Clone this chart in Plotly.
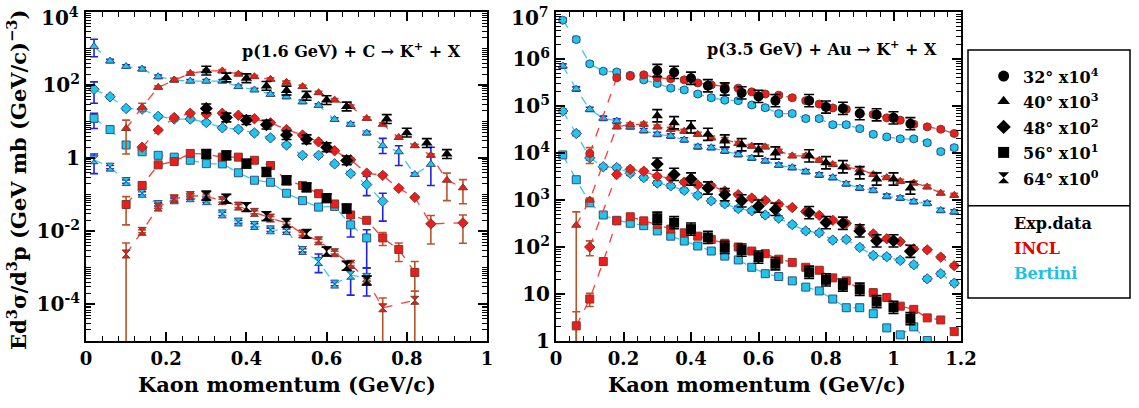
import plotly.graph_objects as go

FONT = "DejaVu Serif"

# ---------------- data ----------------
P = [0.02, 0.06, 0.10, 0.14, 0.18, 0.22, 0.26, 0.30, 0.34, 0.38, 0.42, 0.46, 0.50, 0.54, 0.58,
     0.62, 0.66, 0.70, 0.74, 0.78, 0.82, 0.86, 0.90, 0.94, 0.98, 1.02, 1.06, 1.10, 1.14, 1.18]
EXP_X = [0.30, 0.35, 0.40, 0.45, 0.50, 0.55, 0.60, 0.65, 0.75, 0.80, 0.85, 0.90, 0.95, 1.00, 1.05]

# Left panel: p(1.6 GeV) + C
L40_B = [1135, 457, 325, 275, 170, 138, 129, 129, 129, 91, 74, 56, 48, 35, 28, 11.5, 8.5, 4.9, 2.2, 1.5, 0.36, 0.68]
L40_I = [6.5, 25, 87, 138, 210, 245, 245, 200, 170, 145, 120, 91, 62, 39, 26, 12.3, 8.5, 3.7, 2.2, 1.2, 0.25, 0.155]
L40_E_X = [0.30, 0.35, 0.40, 0.45, 0.50, 0.55, 0.60, 0.65, 0.75, 0.80, 0.85, 0.90]
L40_E = [250, 162, 154, 95, 71, 51, 39, 26, 11.8, 5.0, 2.6, 1.3]

L48_B = [77, 48, 23, 22, 14, 11.8, 11.8, 9.5, 6.8, 6.2, 4.9, 3.6, 2.3, 1.2, 1.2, 0.7, 0.38, 0.19, 0.066]
L48_I_X = P[3:22] + [0.94]
L48_I = [2.0, 5.9, 13, 17, 16, 17, 15, 12, 9.3, 6.1, 4.3, 2.8, 1.6, 0.91, 0.39, 0.34, 0.15, 0.085, 0.016, 0.017]
L48_E_X = [0.30, 0.35, 0.40, 0.45, 0.50, 0.55, 0.60, 0.65]
L48_E = [23, 13, 11, 8.3, 4.3, 3.3, 2.0, 0.87]

L56_B = [12.3, 6.1, 2.3, 1.5, 1.2, 1.07, 0.88, 0.71, 0.70, 0.40, 0.25, 0.22, 0.11, 0.069, 0.046, 0.048, 0.015, 0.0066]
L56_I = [0.054, 0.18, 0.66, 0.81, 1.35, 1.3, 1.07, 1.07, 0.88, 0.63, 0.25, 0.18, 0.107, 0.056, 0.028, 0.020, 0.0066, 0.0032, 0.00075]
L56_E_X = [0.30, 0.35, 0.40, 0.45, 0.50, 0.55, 0.60, 0.65]
L56_E = [1.3, 1.2, 0.71, 0.42, 0.25, 0.16, 0.081, 0.042]

L64_B = [0.91, 0.57, 0.23, 0.11, 0.054, 0.073, 0.083, 0.069, 0.030, 0.018, 0.0145, 0.011, 0.0105, 0.003, 0.0015, 0.00036, 0.00063, 0.00055]
L64_I_X = P[2:19] + [0.82]
L64_I = [0.0024, 0.010, 0.046, 0.078, 0.095, 0.09, 0.069, 0.049, 0.033, 0.023, 0.017, 0.0085, 0.0055, 0.0026, 0.00126, 0.00047, 0.000081, 0.00013]
L64_E_X = [0.30, 0.35, 0.40, 0.45, 0.50, 0.55, 0.60, 0.65, 0.70]
L64_E = [0.095, 0.078, 0.046, 0.026, 0.017, 0.0085, 0.0028, 0.00114, 0.00045]

# Right panel: p(3.5 GeV) + Au
R32_B = [6.7e6, 2.6e6, 7.9e5, 5.5e5, 5.3e5, 4.5e5, 3.6e5, 3.0e5, 2.4e5, 2.2e5, 1.8e5, 1.5e5, 1.33e5, 1.3e5, 1.05e5,
         9.2e4, 6.9e4, 6.9e4, 5.4e4, 5.4e4, 4.0e4, 4.0e4, 3.3e4, 2.5e4, 2.2e4, 2.0e4, 2.0e4, 1.65e4, 1.07e4, 1.3e4]
R32_I_X = [0.10] + P[4:]
R32_I = [9.8e3, 4.0e5, 4.3e5, 4.6e5, 4.0e5, 3.8e5, 3.6e5, 3.1e5, 2.8e5, 2.6e5, 2.4e5, 2.0e5, 1.8e5, 1.7e5, 1.5e5,
         1.3e5, 1.1e5, 9.1e4, 8.5e4, 6.9e4, 6.6e4, 5.6e4, 5.0e4, 4.1e4, 3.6e4, 3.2e4, 2.6e4]
R32_E = [5.7e5, 5.2e5, 3.9e5, 2.7e5, 2.3e5, 1.9e5, 1.6e5, 1.3e5, 1.3e5, 9.5e4, 8.9e4, 6.9e4, 6.5e4, 5.6e4, 4.2e4]

R40_B = [7.1e5, 2.3e5, 8.5e4, 5.5e4, 4.8e4, 3.6e4, 3.0e4, 2.5e4, 2.3e4, 1.9e4, 1.36e4, 1.3e4, 1.1e4, 9.3e3, 7.8e3,
         6.8e3, 5.5e3, 4.9e3, 4.0e3, 3.4e3, 3.0e3, 2.2e3, 1.8e3, 1.6e3, 1.2e3, 1.1e3, 920, 850, 600, 560]
R40_I_X = [0.06, 0.10] + P[4:]
R40_I = [290, 1.0e3, 3.6e4, 4.0e4, 4.1e4, 3.6e4, 3.2e4, 2.9e4, 2.5e4, 2.1e4, 1.95e4, 1.6e4, 1.4e4, 1.35e4, 1.1e4,
         8.7e3, 8.7e3, 7.0e3, 5.7e3, 5.0e3, 4.5e3, 3.5e3, 3.0e3, 2.5e3, 2.3e3, 1.9e3, 1.4e3, 1.26e3]
R40_E = [6.2e4, 4.4e4, 3.6e4, 2.5e4, 1.8e4, 1.5e4, 1.16e4, 1.0e4, 8.7e3, 6.2e3, 5.1e3, 3.8e3, 2.8e3, 2.8e3, 1.8e3]

R48_B = [7.8e4, 2.6e4, 7.9e3, 5.1e3, 4.9e3, 3.7e3, 3.0e3, 2.3e3, 2.0e3, 1.6e3, 1.26e3, 960, 830, 660, 590,
         480, 410, 300, 220, 200, 140, 145, 98, 66, 62, 52, 42, 21, 27, 17]
R48_I_X = [0.10] + P[4:]
R48_I = [100, 3.5e3, 4.5e3, 4.1e3, 3.2e3, 2.9e3, 2.4e3, 2.1e3, 2.0e3, 1.55e3, 1.3e3, 1.1e3, 980, 810, 690,
         570, 470, 370, 320, 250, 190, 150, 130, 91, 87, 61, 40]
R48_E = [5.8e3, 3.5e3, 2.8e3, 1.8e3, 1.3e3, 960, 740, 630, 540, 330, 320, 220, 135, 135, 81]

R56_B = [9.1e3, 2.7e3, 870, 480, 370, 320, 285, 220, 170, 134, 105, 82, 64, 53, 37,
         27, 23.5, 19, 14, 11.6, 7.8, 5.1, 5.1, 3.8, 1.9, 1.35, 2.0, 1.02, 0.8]
R56_I_X = P[1:]
R56_I = [2.1, 7.8, 49, 360, 440, 360, 300, 240, 200, 170, 145, 120, 100, 82, 72,
         55, 47, 37, 32, 22, 19, 12.6, 10.7, 8.4, 5.5, 4.7, 3.1, 2.8, 1.58]
R56_E = [410, 330, 240, 160, 98, 86, 61, 44, 29, 20, 15.5, 12.6, 6.9, 5.2, 3.0]

# special (asymmetric / large) error bars: x -> (upper bound, lower bound)
L40_B_SP = {0.02: (1800, 600), 0.74: (3.5, 1.35), 0.78: (2.2, 0.63), 0.86: (2.0, 0.18)}
L40_I_SP = {0.10: (11, 1.3), 0.14: (32, 19), 0.90: (0.39, 0.069), 0.94: (0.26, 0.057)}
L48_B_SP = {0.02: (123, 32), 0.70: (0.32, 0.095), 0.74: (0.11, 0.019)}
L48_I_SP = {0.86: (0.027, 0.0045), 0.94: (0.028, 0.0047)}
L56_B_SP = {0.02: (17, 6.5), 0.66: (0.030, 0.007), 0.70: (0.011, 0.001)}
L56_I_SP = {0.10: (0.089, 0.015), 0.74: (0.0093, 0.0041), 0.78: (0.0048, 0.0015), 0.82: (0.0015, 0.00023)}
L64_B_SP = {0.02: (1.3, 0.38), 0.58: (0.0024, 0.00074), 0.66: (0.001, 0.00018), 0.70: (0.001, 0.00017)}
L64_I_SP = {0.10: (0.0048, 1e-9), 0.74: (0.00015, 1e-9), 0.82: (0.00023, 1e-9)}
R32_I_SP = {0.10: (1.3e4, 6e3)}
R40_I_SP = {0.06: (560, 1e-3)}
R48_I_SP = {0.10: (135, 65)}
R56_I_SP = {0.06: (4.2, 1e-3), 0.10: (10.3, 5.4)}

ANGLE_SYMBOLS = ["circle", "triangle-up", "diamond", "square", "hourglass"]
LEG_ANGLES = ["32°", "40°", "48°", "56°", "64°"]
LEG_POW = ["4", "3", "2", "1", "0"]

# ---------------- styles ----------------
C_INCL = "#ee1c1c"
C_INCL_ERR = "#b5562a"
C_BERT = "#1ec6ee"
C_BERT_ERR = "#2020e8"

fig = go.Figure()


def errs(x, y, dec, sp=None):
    up, dn = [], []
    for xi, v in zip(x, y):
        key = round(xi, 2)
        if sp and key in sp:
            hi, lo = sp[key]
            up.append(hi - v)
            dn.append(v - lo)
        else:
            up.append(v * (10 ** dec - 1))
            dn.append(v * (1 - 10 ** (-dec)))
    return up, dn


def add(x, y, kind, sym, ax, sp=None):
    if kind == "B":
        u, d = errs(x, y, 0.045, sp)
        fig.add_trace(go.Scatter(
            x=x, y=y, mode="lines+markers", xaxis=ax[0], yaxis=ax[1], showlegend=False,
            line=dict(color="#3cc8ec", width=1.3, dash="dash"),
            marker=dict(symbol=sym, size=8, color=C_BERT, line=dict(color="#33507a", width=1)),
            error_y=dict(type="data", array=u, arrayminus=d, color=C_BERT_ERR, thickness=1.6, width=4)))
    elif kind == "I":
        u, d = errs(x, y, 0.04, sp)
        fig.add_trace(go.Scatter(
            x=x, y=y, mode="lines+markers", xaxis=ax[0], yaxis=ax[1], showlegend=False,
            line=dict(color="#ff3a3a", width=1.3, dash="dash"),
            marker=dict(symbol=sym, size=8, color=C_INCL, line=dict(color="#7a3a2a", width=1)),
            error_y=dict(type="data", array=u, arrayminus=d, color=C_INCL_ERR, thickness=1.6, width=4)))
    else:
        u, d = errs(x, y, 0.12 if ax[0] == "x" else 0.13, sp)
        fig.add_trace(go.Scatter(
            x=x, y=y, mode="markers", xaxis=ax[0], yaxis=ax[1], showlegend=False,
            marker=dict(symbol=sym, size=10, color="black"),
            error_y=dict(type="data", array=u, arrayminus=d, color="black", thickness=1.6, width=5)))


LA = ("x", "y")
RA = ("x2", "y2")

# left panel
add(P[:22], L40_B, "B", "triangle-up", LA, L40_B_SP)
add(P[:19], L48_B, "B", "diamond", LA, L48_B_SP)
add(P[:18], L56_B, "B", "square", LA, L56_B_SP)
add(P[:18], L64_B, "B", "hourglass", LA, L64_B_SP)
add(P[2:24], L40_I, "I", "triangle-up", LA, L40_I_SP)
add(L48_I_X, L48_I, "I", "diamond", LA, L48_I_SP)
add(P[2:21], L56_I, "I", "square", LA, L56_I_SP)
add(L64_I_X, L64_I, "I", "hourglass", LA, L64_I_SP)
add(L40_E_X, L40_E, "E", "triangle-up", LA)
add(L48_E_X, L48_E, "E", "diamond", LA)
add(L56_E_X, L56_E, "E", "square", LA)
add(L64_E_X, L64_E, "E", "hourglass", LA)

# right panel
add(P, R32_B, "B", "circle", RA)
add(P, R40_B, "B", "triangle-up", RA)
add(P, R48_B, "B", "diamond", RA)
add(P[:29], R56_B, "B", "square", RA)
add(R32_I_X, R32_I, "I", "circle", RA, R32_I_SP)
add(R40_I_X, R40_I, "I", "triangle-up", RA, R40_I_SP)
add(R48_I_X, R48_I, "I", "diamond", RA, R48_I_SP)
add(R56_I_X, R56_I, "I", "square", RA, R56_I_SP)
add(EXP_X, R32_E, "E", "circle", RA)
add(EXP_X, R40_E, "E", "triangle-up", RA)
add(EXP_X, R48_E, "E", "diamond", RA)
add(EXP_X, R56_E, "E", "square", RA)

# legend symbols (in a hidden legend axis)
LEG_ROWS = [0.895, 0.793, 0.69, 0.587, 0.485]
fig.add_trace(go.Scatter(
    x=[0.22] * 5, y=LEG_ROWS, mode="markers", xaxis="x3", yaxis="y3", showlegend=False,
    marker=dict(symbol=ANGLE_SYMBOLS, size=11, color="black")))

# ---------------- layout ----------------
W, H = 1139, 408
ML, MR, MT, MB = 86, 4, 12, 67
PW = W - ML - MR
PH = H - MT - MB


def px(v):
    return (v - ML) / PW


def py(v):
    return (H - MB - v) / PH


xtickfont = dict(family=FONT, size=18, color="black", weight="bold")
ytickfont = dict(family=FONT, size=20, color="black", weight="bold")
common_x = dict(showline=True, linewidth=2, linecolor="black", mirror="allticks", ticks="inside",
                ticklen=9, tickwidth=1.6, tickcolor="black", showgrid=False, zeroline=False,
                tickfont=xtickfont, ticklabeloverflow="allow",
                minor=dict(ticks="inside", ticklen=5, tickwidth=1.2, tickcolor="black", dtick=0.04))
common_y = dict(type="log", showline=True, linewidth=2, linecolor="black", mirror="allticks",
                ticks="inside", ticklen=9, tickwidth=1.6, tickcolor="black", showgrid=False,
                zeroline=False, tickfont=ytickfont, automargin=False, ticklabeloverflow="allow",
                minor=dict(ticks="inside", ticklen=5, tickwidth=1.0, tickcolor="black", dtick="D1"))

# the top-most labels are placed as annotations (slightly lowered, as in the reference)
LY_TICKS = [1e-4, 1e-2, 1, 1e2, 1e4]
LY_TEXT = ["10<sup>-4</sup>", "10<sup>-2</sup>", "1", "10<sup>2</sup>", ""]
LY_TOP = "10<sup>4</sup>"
RY_TICKS = [1, 10, 1e2, 1e3, 1e4, 1e5, 1e6, 1e7]
RY_TEXT = ["1", "10", "10<sup>2</sup>", "10<sup>3</sup>", "10<sup>4</sup>", "10<sup>5</sup>",
           "10<sup>6</sup>", ""]
RY_TOP = "10<sup>7</sup>"

fig.update_layout(
    width=W, height=H, margin=dict(l=ML, r=MR, t=MT, b=MB, autoexpand=False),
    paper_bgcolor="white", plot_bgcolor="white", showlegend=False,
    font=dict(family=FONT, color="black"),
    xaxis=dict(domain=[0, px(487)], range=[0, 1], tickmode="array", tickvals=[0, 0.2, 0.4, 0.6, 0.8, 1],
               ticktext=["0", "0.2", "0.4", "0.6", "0.8", "1"], automargin=False, **common_x),
    yaxis=dict(domain=[0, 1], range=[-5.0005, 4.0005], tickmode="array", tickvals=LY_TICKS, ticktext=LY_TEXT,
               anchor="x", **common_y),
    xaxis2=dict(domain=[px(556), px(961)], range=[0, 1.2], anchor="y2", tickmode="array",
                tickvals=[0, 0.2, 0.4, 0.6, 0.8, 1, 1.2], automargin=False,
                ticktext=["0", "0.2", "0.4", "0.6", "0.8", "1", "1.2"], **common_x),
    yaxis2=dict(domain=[0, 1], range=[-0.0005, 7.0005], tickmode="array", tickvals=RY_TICKS, ticktext=RY_TEXT,
                anchor="x2", **common_y),
    xaxis3=dict(domain=[px(968), px(1130)], range=[0, 1], visible=False, anchor="y3"),
    yaxis3=dict(domain=[py(298), py(50)], range=[0, 1], visible=False, anchor="x3"),
)

fig.add_annotation(x=px(81), y=py(17), xref="paper", yref="paper", showarrow=False,
                   xanchor="right", yanchor="middle", text=LY_TOP, font=ytickfont)
fig.add_annotation(x=px(551), y=py(17), xref="paper", yref="paper", showarrow=False,
                   xanchor="right", yanchor="middle", text=RY_TOP, font=ytickfont)

fig.add_shape(type="rect", xref="x3 domain", yref="y3 domain", x0=0, x1=1, y0=0, y1=1,
              line=dict(color="black", width=1.5))
fig.add_shape(type="line", xref="x3 domain", yref="y3 domain", x0=0, x1=1, y0=0.372, y1=0.372,
              line=dict(color="black", width=1.5))

bold16 = dict(family=FONT, size=16, color="black", weight="bold")
for ang, pw, yy in zip(LEG_ANGLES, LEG_POW, LEG_ROWS):
    fig.add_annotation(x=0.33, y=yy, xref="x3", yref="y3", xanchor="left", yanchor="middle",
                       text=f"{ang} x10<sup>{pw}</sup>", showarrow=False, font=bold16)
fig.add_annotation(x=0.27, y=0.30, xref="x3", yref="y3", xanchor="left", yanchor="middle",
                   text="Exp.data", showarrow=False, font=bold16)
fig.add_annotation(x=0.27, y=0.20, xref="x3", yref="y3", xanchor="left", yanchor="middle", text="INCL",
                   showarrow=False, font=dict(family=FONT, size=16, color="#e80000", weight="bold"))
fig.add_annotation(x=0.27, y=0.10, xref="x3", yref="y3", xanchor="left", yanchor="middle", text="Bertini",
                   showarrow=False, font=dict(family=FONT, size=16, color="#1ec0e8", weight="bold"))

# panel titles
fig.add_annotation(x=px(351), y=py(50), xref="paper", yref="paper", showarrow=False,
                   xanchor="center", yanchor="middle",
                   text="p(1.6 GeV) + C → K<sup>+</sup> + X", font=bold16)
fig.add_annotation(x=px(822), y=py(48), xref="paper", yref="paper", showarrow=False,
                   xanchor="center", yanchor="middle",
                   text="p(3.5 GeV) + Au → K<sup>+</sup> + X", font=bold16)

# axis titles
axt = dict(family=FONT, size=21, color="black", weight="bold")
fig.add_annotation(x=px(287), y=py(384), xref="paper", yref="paper", showarrow=False,
                   xanchor="center", yanchor="middle", text="Kaon momentum (GeV/c)", font=axt)
fig.add_annotation(x=px(757), y=py(384), xref="paper", yref="paper", showarrow=False,
                   xanchor="center", yanchor="middle", text="Kaon momentum (GeV/c)", font=axt)
fig.add_annotation(x=px(17), y=py(180), xref="paper", yref="paper", showarrow=False, textangle=-90,
                   xanchor="center", yanchor="middle",
                   text="Ed<sup>3</sup>σ/d<sup>3</sup>p (GeV mb (GeV/c)<sup>−3</sup>)", font=axt)

fig.write_html("out.html", config={"displayModeBar": False},
               post_script="document.body.style.margin='0px';document.body.style.overflow='hidden';")
